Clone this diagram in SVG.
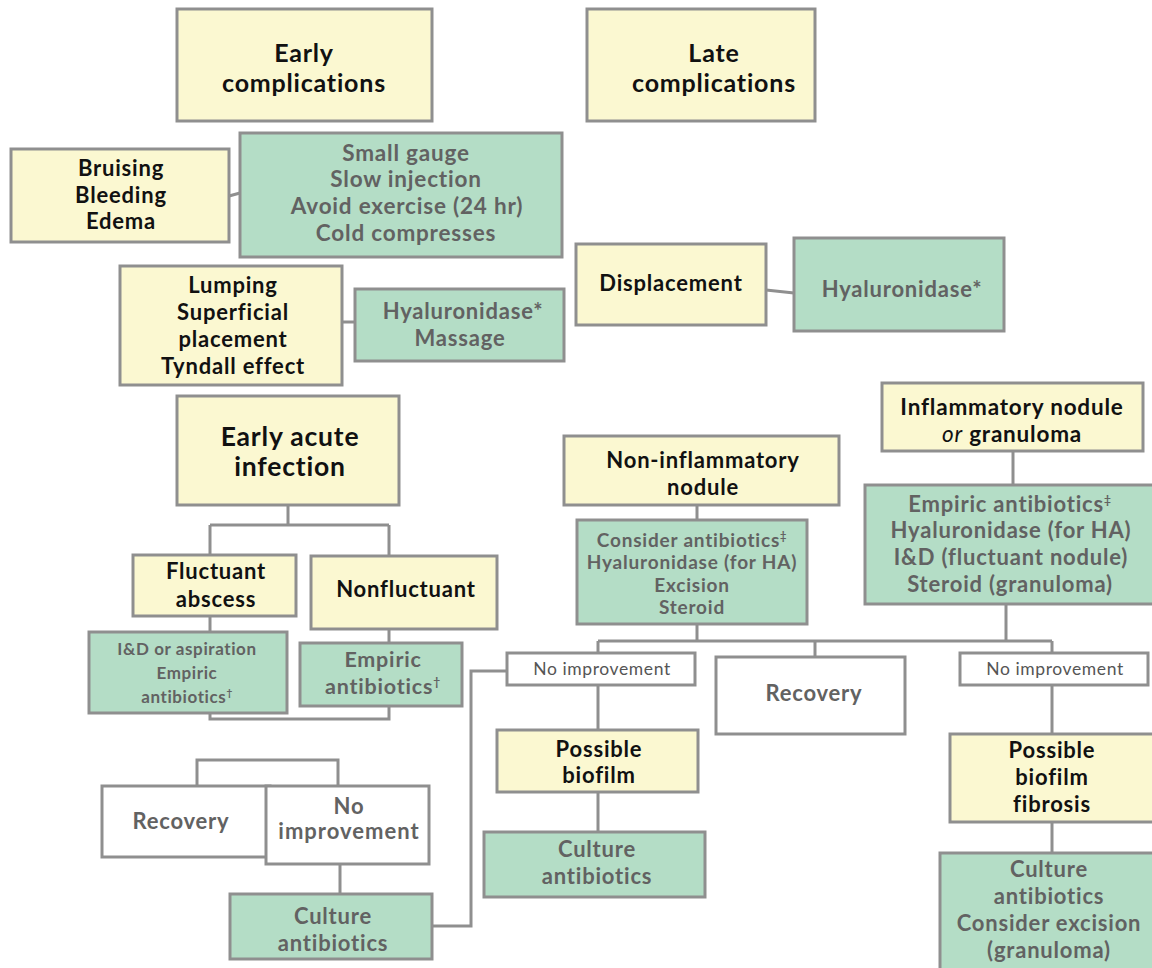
<svg xmlns="http://www.w3.org/2000/svg" width="1152" height="968" viewBox="0 0 1152 968">
<style>
.y{fill:#fbf8d1;stroke:#8f8f8f;stroke-width:3}
.g{fill:#b4ddc6;stroke:#8f8f8f;stroke-width:3}
.w{fill:#ffffff;stroke:#8f8f8f;stroke-width:3}
.c{fill:none;stroke:#8f8f8f;stroke-width:3}
text{font-family:Lato,"Open Sans","Liberation Sans",sans-serif;text-anchor:middle;font-weight:bold;letter-spacing:0.8px}
.tb{fill:#111111}
.tg{fill:#626262}
.ts{fill:#555555;font-weight:normal;font-size:17.5px;letter-spacing:0.6px}
</style>
<rect width="1152" height="968" fill="#ffffff"/>
<g id="connectors">
<path class="c" d="M229,196 L240,193"/>
<path class="c" d="M342,322 L355,322"/>
<path class="c" d="M766,290 L794,293"/>
<path class="c" d="M288,505 V525 M210,525 H389 M210,525 V555 M389,525 V556"/>
<path class="c" d="M210,616 V632 M389,629 V643"/>
<path class="c" d="M210,713 V719 H389 V706"/>
<path class="c" d="M197,786 V760 H338 V786"/>
<path class="c" d="M340,864 V894"/>
<path class="c" d="M432,926 H471 V671 H507"/>
<path class="c" d="M697,505 V520 M1013,451 V485"/>
<path class="c" d="M697,624 V641 M1006,604 V641 M598,641 H1052 M598,641 V653 M815,641 V657 M1052,641 V653"/>
<path class="c" d="M598,685 V730 M598,792 V832"/>
<path class="c" d="M1052,685 V734 M1052,822 V853"/>
</g>
<g id="early-complications"><rect class="y" x="177" y="9" width="255" height="112"/>
<text class="tb" font-size="25"><tspan x="304" y="62">Early</tspan><tspan x="304" y="92">complications</tspan></text></g>
<g id="late-complications"><rect class="y" x="587" y="9" width="228" height="112"/>
<text class="tb" font-size="25"><tspan x="714" y="62">Late</tspan><tspan x="714" y="92">complications</tspan></text></g>
<g id="bruising"><rect class="y" x="11" y="149" width="218" height="93"/>
<text class="tb" font-size="22"><tspan x="121" y="176">Bruising</tspan><tspan x="121" y="203">Bleeding</tspan><tspan x="121" y="229">Edema</tspan></text></g>
<g id="small-gauge"><rect class="g" x="240" y="133" width="322" height="124"/>
<text class="tg" font-size="22.5"><tspan x="406" y="161">Small gauge</tspan><tspan x="406" y="187">Slow injection</tspan><tspan x="407" y="214">Avoid exercise (24 hr)</tspan><tspan x="406" y="241">Cold compresses</tspan></text></g>
<g id="lumping"><rect class="y" x="120" y="266" width="222" height="119"/>
<text class="tb" font-size="22"><tspan x="233" y="293">Lumping</tspan><tspan x="233" y="320">Superficial</tspan><tspan x="233" y="347">placement</tspan><tspan x="233" y="374">Tyndall effect</tspan></text></g>
<g id="hyaluronidase-massage"><rect class="g" x="355" y="289" width="209" height="72"/>
<text class="tg" font-size="22"><tspan x="463" y="319">Hyaluronidase*</tspan><tspan x="460" y="346">Massage</tspan></text></g>
<g id="displacement"><rect class="y" x="576" y="244" width="190" height="81"/>
<text class="tb" font-size="22" x="671" y="291">Displacement</text></g>
<g id="hyaluronidase"><rect class="g" x="794" y="238" width="210" height="93"/>
<text class="tg" font-size="22" x="902" y="297">Hyaluronidase*</text></g>
<g id="early-acute-infection"><rect class="y" x="177" y="396" width="222" height="109"/>
<text class="tb" font-size="26.5"><tspan x="290" y="446">Early acute</tspan><tspan x="290" y="476">infection</tspan></text></g>
<g id="fluctuant"><rect class="y" x="133" y="555" width="163" height="61"/>
<text class="tb" font-size="22"><tspan x="216" y="579">Fluctuant</tspan><tspan x="216" y="607">abscess</tspan></text></g>
<g id="nonfluctuant"><rect class="y" x="311" y="556" width="186" height="73"/>
<text class="tb" font-size="22" x="406" y="597">Nonfluctuant</text></g>
<g id="id-aspiration"><rect class="g" x="89" y="632" width="198" height="81"/>
<text class="tg" font-size="17" style="letter-spacing:0.6px"><tspan x="187" y="655">I&amp;D or aspiration</tspan><tspan x="187" y="679">Empiric</tspan><tspan x="187" y="703">antibiotics<tspan font-size="10" dy="-7">†</tspan></tspan></text></g>
<g id="empiric-left"><rect class="g" x="300" y="643" width="162" height="63"/>
<text class="tg" font-size="21.5"><tspan x="383" y="667">Empiric</tspan><tspan x="383" y="694">antibiotics<tspan font-size="12" dy="-8">†</tspan></tspan></text></g>
<g id="recovery-left"><rect class="w" x="102" y="786" width="168" height="71"/>
<text class="tg" font-size="22" x="181" y="829">Recovery</text></g>
<g id="no-improvement-left"><rect class="w" x="266" y="786" width="163" height="78"/>
<text class="tg" font-size="22" style="letter-spacing:1px"><tspan x="349" y="814">No</tspan><tspan x="349" y="839">improvement</tspan></text></g>
<g id="culture-left"><rect class="g" x="230" y="894" width="202" height="65"/>
<text class="tg" font-size="22"><tspan x="333" y="924">Culture</tspan><tspan x="333" y="951">antibiotics</tspan></text></g>
<g id="non-inflammatory"><rect class="y" x="564" y="436" width="275" height="69"/>
<text class="tb" font-size="22"><tspan x="703" y="468">Non-inflammatory</tspan><tspan x="703" y="495">nodule</tspan></text></g>
<g id="consider-antibiotics"><rect class="g" x="577" y="520" width="230" height="104"/>
<text class="tg" font-size="19"><tspan x="692" y="547">Consider antibiotics<tspan font-size="11" dy="-7">‡</tspan></tspan><tspan x="692" y="569">Hyaluronidase (for HA)</tspan><tspan x="692" y="592">Excision</tspan><tspan x="692" y="614">Steroid</tspan></text></g>
<g id="inflammatory"><rect class="y" x="882" y="383" width="261" height="68"/>
<text class="tb" font-size="22.5"><tspan x="1012" y="415">Inflammatory nodule</tspan><tspan x="1012" y="442"><tspan font-style="italic" font-weight="normal">or</tspan> granuloma</tspan></text></g>
<g id="empiric-right"><rect class="g" x="865" y="485" width="295" height="119"/>
<text class="tg" font-size="22"><tspan x="1010" y="512">Empiric antibiotics<tspan font-size="12" dy="-8">‡</tspan></tspan><tspan x="1011" y="538">Hyaluronidase (for HA)</tspan><tspan x="1011" y="565">I&amp;D (fluctuant nodule)</tspan><tspan x="1010" y="592">Steroid (granuloma)</tspan></text></g>
<g id="no-improvement-mid"><rect class="w" x="507" y="653" width="188" height="32"/>
<text class="ts" x="602" y="675">No improvement</text></g>
<g id="recovery-mid"><rect class="w" x="716" y="657" width="189" height="77"/>
<text class="tg" font-size="22" x="814" y="701">Recovery</text></g>
<g id="no-improvement-right"><rect class="w" x="960" y="653" width="188" height="32"/>
<text class="ts" x="1055" y="675">No improvement</text></g>
<g id="possible-biofilm"><rect class="y" x="497" y="730" width="201" height="62"/>
<text class="tb" font-size="22"><tspan x="599" y="757">Possible</tspan><tspan x="599" y="783">biofilm</tspan></text></g>
<g id="culture-mid"><rect class="g" x="484" y="832" width="221" height="65"/>
<text class="tg" font-size="22"><tspan x="597" y="857">Culture</tspan><tspan x="597" y="884">antibiotics</tspan></text></g>
<g id="possible-biofilm-fibrosis"><rect class="y" x="950" y="734" width="210" height="88"/>
<text class="tb" font-size="22"><tspan x="1052" y="758">Possible</tspan><tspan x="1052" y="785">biofilm</tspan><tspan x="1052" y="812">fibrosis</tspan></text></g>
<g id="culture-right"><rect class="g" x="940" y="853" width="220" height="125"/>
<text class="tg" font-size="22"><tspan x="1049" y="877">Culture</tspan><tspan x="1049" y="904">antibiotics</tspan><tspan x="1049" y="931">Consider excision</tspan><tspan x="1049" y="958">(granuloma)</tspan></text></g>
</svg>
